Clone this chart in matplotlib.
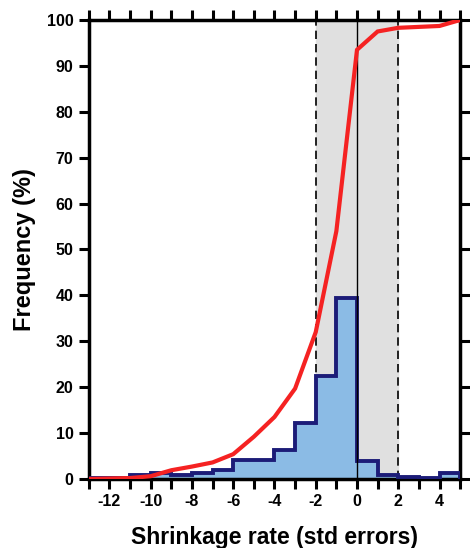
import numpy as np
import matplotlib.pyplot as plt

plt.rcParams['font.family'] = ['Liberation Sans', 'DejaVu Sans']
plt.rcParams['font.weight'] = 'bold'
plt.rcParams['axes.unicode_minus'] = False

# histogram bins (std errors) and percent of cases in each bin
bin_edges = [-13, -12, -11, -10, -9, -8, -7, -6, -5, -4, -3, -2, -1, 0, 1, 2, 3, 4, 5]
bin_pct = [0.2, 0.2, 0.8, 1.3, 0.8, 1.2, 2.0, 4.2, 4.2, 6.2, 12.1, 22.4, 39.5,
           4.0, 0.9, 0.4, 0.2, 1.4]

# cumulative frequency curve
cum_x = [-13, -12, -11, -10, -9, -8, -7, -6, -5, -4, -3, -2, -1, 0, 1, 2, 3, 4, 5]
cum_pct = [0.0, 0.1, 0.2, 0.6, 1.9, 2.7, 3.6, 5.4, 9.2, 13.5, 19.7, 32.0, 54.0,
           93.5, 97.5, 98.3, 98.5, 98.7, 100.0]

band = (-2, 2)

fig = plt.figure(figsize=(4.7, 5.48), dpi=100)
ax = fig.add_axes([0.189, 0.126, 0.79, 0.8375])

ax.axvspan(band[0], band[1], color='#e0e0e0', zorder=0)
for xv in band:
    ax.axvline(xv, color='black', ls=(0, (5, 3)), lw=1.2, zorder=1)

ax.stairs(bin_pct, bin_edges, fill=True, color='#8bbbe5', zorder=2)
ax.stairs(bin_pct, bin_edges, color='#1c1c78', lw=2.8, zorder=3)
ax.axvline(0, color='black', lw=1.0, zorder=4)
ax.plot(cum_x, cum_pct, color='#f52222', lw=3, zorder=5, solid_joinstyle='miter')

ax.set_xlim(-13, 5)
ax.set_ylim(0, 100)
ax.set_xticks(np.arange(-12, 5, 2))
ax.set_xticks(np.arange(-13, 6, 1), minor=True)
ax.set_yticks(np.arange(0, 101, 10))

for s in ax.spines.values():
    s.set_linewidth(2.5)
ax.tick_params(which='both', direction='out', length=7.5, width=2.2,
               top=True, right=True, labelsize=11.5, pad=3.5)

ax.set_xlabel('Shrinkage rate (std errors)', fontsize=16.5, fontweight='bold', labelpad=12)
ax.set_ylabel('Frequency (%)', fontsize=17, fontweight='bold', labelpad=8)

fig.savefig('out.png', dpi=100)
